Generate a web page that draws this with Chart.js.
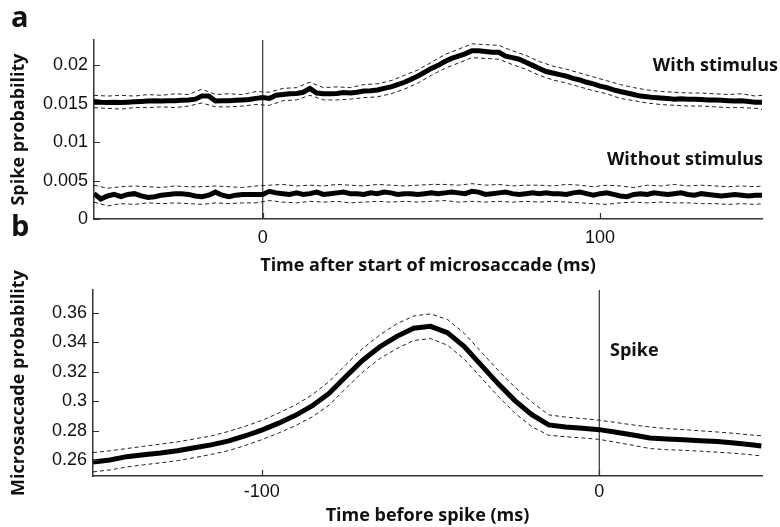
<!DOCTYPE html>
<html>
<head>
<meta charset="utf-8">
<script src="https://cdn.jsdelivr.net/npm/chart.js@4.4.1/dist/chart.umd.min.js"></script>
<style>
  body { margin: 0; background: #fff; }
  #wrap { position: relative; width: 780px; height: 527px; }
  canvas { position: absolute; left: 0; }
  #chartA { top: 0; }
  #chartB { top: 205px; }
</style>
</head>
<body>
<div id="wrap">
  <canvas id="chartA" width="780" height="285"></canvas>
  <canvas id="chartB" width="780" height="322"></canvas>
</div>
<script>
// ---- panel a: spike probability vs time after microsaccade onset ----
const tA = [
  -50, -48, -46, -44, -42, -40, -38, -36, -34, -32,
  -30, -28, -26, -24, -22, -20, -18, -16, -14, -12,
  -10, -8, -6, -4, -2, 0, 2, 4, 6, 8,
  10, 12, 14, 16, 18, 20, 22, 24, 26, 28,
  30, 32, 34, 36, 38, 40, 42, 44, 46, 48,
  50, 52, 54, 56, 58, 60, 62, 64, 66, 68,
  70, 72, 74, 76, 78, 80, 82, 84, 86, 88,
  90, 92, 94, 96, 98, 100, 102, 104, 106, 108,
  110, 112, 114, 116, 118, 120, 122, 124, 126, 128,
  130, 132, 134, 136, 138, 140, 142, 144, 146, 148
];
const withStim = [
  0.0153, 0.0152, 0.01515, 0.0152, 0.01515, 0.0152, 0.01525, 0.0153, 0.01535, 0.0154,
  0.01535, 0.0154, 0.0154, 0.01545, 0.0155, 0.0156, 0.0160, 0.0160, 0.01535, 0.0154,
  0.0154, 0.01545, 0.0155, 0.01555, 0.0157, 0.0158, 0.0157, 0.0161, 0.0162, 0.0163,
  0.01635, 0.0165, 0.0170, 0.0164, 0.0163, 0.0163, 0.01635, 0.01645, 0.0164, 0.0165,
  0.01665, 0.0167, 0.0168, 0.0170, 0.0172, 0.0175, 0.0178, 0.0182, 0.0186, 0.0191,
  0.0196, 0.0200, 0.0205, 0.0209, 0.0212, 0.0215, 0.0219, 0.0219, 0.0218, 0.0217,
  0.0217, 0.0212, 0.0210, 0.0208, 0.0204, 0.0200, 0.0196, 0.0192, 0.0190, 0.0188,
  0.0186, 0.0183, 0.0181, 0.0178, 0.0176, 0.0173, 0.0171, 0.0168, 0.0166, 0.0164,
  0.0162, 0.0160, 0.0159, 0.0158, 0.01575, 0.0157, 0.0156, 0.01565, 0.0156, 0.0156,
  0.01555, 0.0155, 0.0155, 0.01545, 0.0154, 0.01535, 0.0154, 0.0153, 0.0152, 0.0152
];
const withoutStim = [
  0.0033, 0.0026, 0.0030, 0.0032, 0.0029, 0.0032, 0.0033, 0.0030, 0.0028, 0.0029,
  0.0031, 0.0032, 0.0033, 0.0033, 0.0032, 0.0030, 0.0029, 0.0031, 0.0035, 0.0031,
  0.0029, 0.0031, 0.0032, 0.0032, 0.0032, 0.0032, 0.0036, 0.0034, 0.0033, 0.0032,
  0.0034, 0.0032, 0.0033, 0.0035, 0.0032, 0.0033, 0.0034, 0.0035, 0.0033, 0.0033,
  0.0032, 0.0034, 0.0033, 0.0035, 0.0034, 0.0032, 0.0033, 0.0033, 0.0032, 0.0033,
  0.0034, 0.0033, 0.0034, 0.0035, 0.0034, 0.0033, 0.0036, 0.0035, 0.0032, 0.0033,
  0.0034, 0.0035, 0.0033, 0.0032, 0.0033, 0.0034, 0.0033, 0.0034, 0.0033, 0.0033,
  0.0032, 0.0034, 0.0035, 0.0033, 0.0031, 0.0033, 0.0034, 0.0032, 0.0030, 0.0029,
  0.0032, 0.0033, 0.0032, 0.0034, 0.0033, 0.0032, 0.0033, 0.0034, 0.0032, 0.0031,
  0.0033, 0.0032, 0.0031, 0.0030, 0.0031, 0.0032, 0.0031, 0.0030, 0.0031, 0.0031
];

// confidence bounds are sampled more coarsely
const tAci = [
  -50, -46, -42, -38, -34, -30, -26, -22, -18, -14,
  -10, -6, -2, 2, 6, 10, 14, 18, 22, 26,
  30, 34, 38, 42, 46, 50, 54, 58, 62, 66,
  70, 74, 78, 82, 86, 90, 94, 98, 102, 106,
  110, 114, 118, 122, 126, 130, 134, 138, 142, 146, 148
];
const withHi = [
  0.0161, 0.0160, 0.0161, 0.0160, 0.0162, 0.0161, 0.0163, 0.0162, 0.0169, 0.0162,
  0.0163, 0.0162, 0.0166, 0.0165, 0.0170, 0.0171, 0.0178, 0.0171, 0.0172, 0.0171,
  0.0175, 0.0176, 0.0180, 0.0187, 0.0194, 0.0204, 0.0214, 0.0221, 0.0228, 0.0227,
  0.0226, 0.0219, 0.0213, 0.0205, 0.0199, 0.0195, 0.0190, 0.0185, 0.0180, 0.0175,
  0.0171, 0.0168, 0.0166, 0.0165, 0.0164, 0.0164, 0.0163, 0.0162, 0.0163, 0.0160, 0.0161
];
const withLo = [
  0.0145, 0.0144, 0.0143, 0.0145, 0.0145, 0.0146, 0.0145, 0.0147, 0.0151, 0.0146,
  0.0146, 0.0147, 0.0149, 0.0148, 0.0154, 0.0155, 0.0161, 0.0155, 0.0155, 0.0156,
  0.0158, 0.0159, 0.0163, 0.0169, 0.0177, 0.0187, 0.0196, 0.0203, 0.0210, 0.0209,
  0.0208, 0.0201, 0.0195, 0.0187, 0.0181, 0.0177, 0.0172, 0.0167, 0.0163, 0.0157,
  0.0154, 0.0151, 0.0149, 0.0148, 0.0147, 0.0147, 0.0146, 0.0145, 0.0145, 0.0144, 0.0143
];
const withoutHi = [
  0.0044, 0.0040, 0.0042, 0.0043, 0.0042, 0.0041, 0.0043, 0.0042, 0.0042, 0.0043,
  0.0042, 0.0041, 0.0043, 0.0044, 0.0045, 0.0043, 0.0044, 0.0043, 0.0045, 0.0044,
  0.0043, 0.0045, 0.0044, 0.0043, 0.0044, 0.0045, 0.0045, 0.0044, 0.0046, 0.0044,
  0.0045, 0.0043, 0.0044, 0.0044, 0.0043, 0.0045, 0.0044, 0.0042, 0.0044, 0.0043,
  0.0041, 0.0044, 0.0043, 0.0045, 0.0043, 0.0044, 0.0043, 0.0042, 0.0043, 0.0042, 0.0043
];
const withoutLo = [
  0.0022, 0.0017, 0.0020, 0.0019, 0.0021, 0.0020, 0.0021, 0.0020, 0.0019, 0.0021,
  0.0020, 0.0021, 0.0021, 0.0024, 0.0022, 0.0021, 0.0023, 0.0022, 0.0023, 0.0021,
  0.0022, 0.0023, 0.0022, 0.0023, 0.0022, 0.0023, 0.0024, 0.0022, 0.0023, 0.0022,
  0.0023, 0.0022, 0.0023, 0.0022, 0.0023, 0.0022, 0.0021, 0.0020, 0.0019, 0.0021,
  0.0022, 0.0021, 0.0022, 0.0021, 0.0021, 0.0020, 0.0020, 0.0019, 0.0020, 0.0019, 0.0020
];
const aXTicks = [0, 100];
const aXLabels = ['0', '100'];
const aYTicks = [0, 0.005, 0.01, 0.015, 0.02];
const aYLabels = ['0', '0.005', '0.01', '0.015', '0.02'];

// ---- panel b: microsaccade probability vs time before spike ----
const tB = [
  -150, -145, -140, -135, -130, -125, -120, -115, -110, -105,
  -100, -95, -90, -85, -80, -75, -70, -65, -60, -55,
  -50, -45, -40, -35, -30, -25, -20, -15, -10, -5,
  0, 5, 10, 15, 20, 25, 30, 35, 40, 45, 48
];
const msMean = [
  0.2588, 0.2602, 0.2625, 0.2638, 0.2650, 0.2665, 0.2685, 0.2705, 0.2730, 0.2765,
  0.2805, 0.2852, 0.2905, 0.2970, 0.3055, 0.3170, 0.3280, 0.3370, 0.3440, 0.3495,
  0.3508, 0.3465, 0.3370, 0.3245, 0.3120, 0.3005, 0.2910, 0.2840, 0.2826, 0.2818,
  0.2808, 0.2790, 0.2772, 0.2752, 0.2745, 0.2740, 0.2733, 0.2727, 0.2718, 0.2705, 0.2697
];
const msHi = [
  0.2652, 0.2665, 0.2680, 0.2695, 0.2710, 0.2725, 0.2745, 0.2765, 0.2795, 0.2830,
  0.2870, 0.2920, 0.2975, 0.3045, 0.3135, 0.3250, 0.3360, 0.3450, 0.3525, 0.3578,
  0.3592, 0.3555, 0.3460, 0.3335, 0.3210, 0.3095, 0.2995, 0.2908, 0.2893, 0.2883,
  0.2872, 0.2856, 0.2840, 0.2826, 0.2815, 0.2808, 0.2800, 0.2792, 0.2783, 0.2772, 0.2766
];
const msLo = [
  0.2522, 0.2535, 0.2555, 0.2570, 0.2583, 0.2598, 0.2618, 0.2640, 0.2665, 0.2700,
  0.2740, 0.2785, 0.2835, 0.2895, 0.2975, 0.3090, 0.3200, 0.3290, 0.3357, 0.3412,
  0.3425, 0.3380, 0.3285, 0.3160, 0.3035, 0.2920, 0.2828, 0.2770, 0.2760, 0.2752,
  0.2742, 0.2722, 0.2702, 0.2680, 0.2672, 0.2668, 0.2662, 0.2655, 0.2648, 0.2638, 0.2630
];
const bXTicks = [-100, 0];
const bXLabels = ['-100', '0'];
const bYTicks = [0.26, 0.28, 0.3, 0.32, 0.34, 0.36];
const bYLabels = ['0.26', '0.28', '0.3', '0.32', '0.34', '0.36'];

const INK = '#000';
const AXIS = '#333';
const tickFont = { family: '"Liberation Sans", Arial, sans-serif', size: 18 };
const titleFont = { family: '"Open Sans", sans-serif', size: 18, weight: 'bold' };

const pts = (xs, ys) => xs.map((x, i) => ({ x, y: ys[i] }));

const meanLine = (data) => ({
  data, borderColor: INK, borderWidth: 5, pointRadius: 0, tension: 0
});
const ciLine = (data) => ({
  data, borderColor: '#222', borderWidth: 1, borderDash: [4, 3], pointRadius: 0, tension: 0
});
const zeroLine = (ymin, ymax) => ({
  data: [{ x: 0, y: ymin }, { x: 0, y: ymax }],
  borderColor: AXIS, borderWidth: 1.2, pointRadius: 0
});

// short inward ticks plus the panel letters and curve labels
const decor = {
  id: 'decor',
  afterDraw(chart, args, opts) {
    const { ctx, chartArea: ca, scales: { x, y } } = chart;
    ctx.save();
    ctx.strokeStyle = AXIS;
    ctx.lineWidth = 1.2;
    ctx.beginPath();
    opts.yTicks.forEach(v => {
      const py = Math.round(y.getPixelForValue(v)) + 0.5;
      ctx.moveTo(ca.left, py);
      ctx.lineTo(ca.left + 6, py);
    });
    opts.xTicks.forEach(v => {
      const px = Math.round(x.getPixelForValue(v)) + 0.5;
      ctx.moveTo(px, ca.bottom);
      ctx.lineTo(px, ca.bottom - 6);
    });
    ctx.stroke();
    ctx.fillStyle = '#111';
    ctx.textBaseline = 'middle';
    opts.notes.forEach(n => {
      ctx.font = n.font;
      ctx.textAlign = n.align;
      ctx.fillText(n.text, n.x, n.y);
    });
    ctx.restore();
  }
};

function makeScales(cfg) {
  return {
    x: {
      type: 'linear', min: cfg.xMin, max: cfg.xMax,
      grid: { display: false, drawTicks: false },
      border: { display: true, color: AXIS, width: 1.5 },
      afterBuildTicks: s => { s.ticks = cfg.xTicks.map(v => ({ value: v })); },
      afterFit: s => { s.height = cfg.xHeight; },
      ticks: {
        font: tickFont, color: '#111', padding: cfg.xPad, maxRotation: 0,
        callback: v => cfg.xLabels[cfg.xTicks.indexOf(v)]
      },
      title: {
        display: true, text: cfg.xTitle, font: titleFont, color: '#111',
        padding: { top: 0, bottom: cfg.xTitlePad }
      }
    },
    y: {
      type: 'linear', min: cfg.yMin, max: cfg.yMax,
      grid: { display: false, drawTicks: false },
      border: { display: true, color: AXIS, width: 1.5 },
      afterBuildTicks: s => { s.ticks = cfg.yTicks.map(v => ({ value: v })); },
      afterFit: s => { s.width = cfg.yWidth; },
      ticks: {
        font: tickFont, color: '#111', padding: cfg.yPad,
        callback: v => cfg.yLabels[cfg.yTicks.indexOf(v)]
      },
      title: {
        display: true, text: cfg.yTitle, font: titleFont, color: '#111',
        padding: { top: 8, bottom: 0 }
      }
    }
  };
}

const baseOptions = {
  responsive: false,
  animation: false,
  devicePixelRatio: 1,
  plugins: { legend: { display: false }, tooltip: { enabled: false } }
};

const noteFont = 'bold 18px "Open Sans", sans-serif';
const letterFont = 'bold 29px "Open Sans", sans-serif';

const aYMax = 0.0233;
new Chart(document.getElementById('chartA'), {
  type: 'line',
  data: {
    datasets: [
      meanLine(pts(tA, withStim)),
      meanLine(pts(tA, withoutStim)),
      ciLine(pts(tAci, withHi)),
      ciLine(pts(tAci, withLo)),
      ciLine(pts(tAci, withoutHi)),
      ciLine(pts(tAci, withoutLo)),
      zeroLine(0, aYMax)
    ]
  },
  options: {
    ...baseOptions,
    layout: { padding: { left: 0, top: 40, right: 18, bottom: 0 } },
    scales: makeScales({
      xMin: -50, xMax: 148, xTicks: aXTicks, xLabels: aXLabels, xHeight: 66, xPad: 8,
      xTitle: 'Time after start of microsaccade (ms)', xTitlePad: 8,
      yMin: 0, yMax: aYMax, yTicks: aYTicks, yLabels: aYLabels, yWidth: 94, yPad: 6,
      yTitle: 'Spike probability'
    }),
    plugins: {
      ...baseOptions.plugins,
      decor: {
        yTicks: aYTicks, xTicks: aXTicks,
        notes: [
          { text: 'a', x: 11, y: 19, font: letterFont, align: 'left' },
          { text: 'With stimulus', x: 778, y: 66, font: noteFont, align: 'right' },
          { text: 'Without stimulus', x: 763, y: 160, font: noteFont, align: 'right' }
        ]
      }
    }
  },
  plugins: [decor]
});

const bYMin = 0.2494, bYMax = 0.3754;
new Chart(document.getElementById('chartB'), {
  type: 'line',
  data: {
    datasets: [
      meanLine(pts(tB, msMean)),
      ciLine(pts(tB, msHi)),
      ciLine(pts(tB, msLo)),
      zeroLine(bYMin, bYMax)
    ]
  },
  options: {
    ...baseOptions,
    layout: { padding: { left: 0, top: 85, right: 18, bottom: 0 } },
    scales: makeScales({
      xMin: -150, xMax: 48.2, xTicks: bXTicks, xLabels: bXLabels, xHeight: 51, xPad: 5,
      xTitle: 'Time before spike (ms)', xTitlePad: 0,
      yMin: bYMin, yMax: bYMax, yTicks: bYTicks, yLabels: bYLabels, yWidth: 93, yPad: 6,
      yTitle: 'Microsaccade probability'
    }),
    plugins: {
      ...baseOptions.plugins,
      decor: {
        yTicks: bYTicks, xTicks: bXTicks,
        notes: [
          { text: 'b', x: 11, y: 23, font: letterFont, align: 'left' },
          { text: 'Spike', x: 610, y: 146, font: noteFont, align: 'left' }
        ]
      }
    }
  },
  plugins: [decor]
});
</script>
</body>
</html>
